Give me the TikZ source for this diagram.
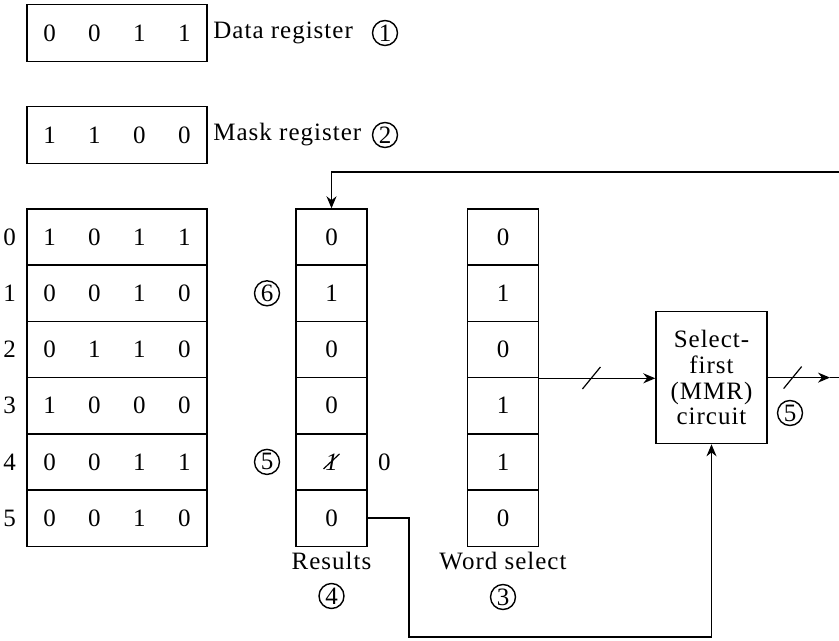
\documentclass[tikz,border=0pt]{standalone}
\usepackage{fontspec}
\setmainfont{Liberation Serif}[LetterSpace=4]
\usetikzlibrary{arrows.meta, positioning}

% four bits spread evenly over a register
\newcommand\bitrow[4]{\makebox[22.5pt]{#1}\makebox[22.5pt]{#2}\makebox[22.5pt]{#3}\makebox[22.5pt]{#4}}

\tikzset{
  font=\fontsize{12.5}{12.85}\selectfont,
  >={Stealth[length=6pt, width=5pt]},
  %
  reg/.style={draw, line width=0.7pt, minimum width=90pt, minimum height=28.5pt,
              inner sep=0pt},
  word/.style={reg, minimum height=28.1pt},
  cell/.style={draw, line width=0.7pt, minimum width=35.5pt, minimum height=28.1pt,
               inner sep=0pt},
  mmr/.style={draw, line width=0.7pt, minimum width=55.5pt, minimum height=66pt,
              align=center, inner sep=0pt},
  %
  num/.style={circle, draw, line width=0.7pt, inner sep=0pt, minimum size=12.5pt},
  lbl/.style={inner sep=1pt},
  %
  wire/.style={line width=0.7pt},
  flow/.style={wire, ->},
  slash/.style={line width=0.6pt},
}

\begin{document}
\begin{tikzpicture}[x=0.5pt, y=-0.5pt]

  \useasboundingbox (0,0) rectangle (839,641);

  % registers
  \node[reg] (data) at (117,33) {\bitrow{0}{0}{1}{1}};
  \node[lbl, anchor=west] (datalbl) at (211,33) {Data register};
  \node[num] (n1) at (385,33) {1};

  \node[reg] (mask) at (117,135) {\bitrow{1}{1}{0}{0}};
  \node[lbl, anchor=west] (masklbl) at (211,135) {Mask register};
  \node[num] (n2) at (385,135) {2};

  % memory words
  \node[word] (m0) at (117,237.1) {\bitrow{1}{0}{1}{1}};
  \node[word] (m1) at (117,293.3) {\bitrow{0}{0}{1}{0}};
  \node[word] (m2) at (117,349.5) {\bitrow{0}{1}{1}{0}};
  \node[word] (m3) at (117,405.7) {\bitrow{1}{0}{0}{0}};
  \node[word] (m4) at (117,461.9) {\bitrow{0}{0}{1}{1}};
  \node[word] (m5) at (117,518.1) {\bitrow{0}{0}{1}{0}};

  \node[lbl, left=4pt of m0] (a0) {0};
  \node[lbl, left=4pt of m1] (a1) {1};
  \node[lbl, left=4pt of m2] (a2) {2};
  \node[lbl, left=4pt of m3] (a3) {3};
  \node[lbl, left=4pt of m4] (a4) {4};
  \node[lbl, left=4pt of m5] (a5) {5};

  % results column
  \node[cell] (r0) at (331.5,237.1) {0};
  \node[cell] (r1) at (331.5,293.3) {1};
  \node[cell] (r2) at (331.5,349.5) {0};
  \node[cell] (r3) at (331.5,405.7) {0};
  \node[cell] (r4) at (331.5,461.9) {\itshape 1};
  \node[cell] (r5) at (331.5,518.1) {0};
  \draw[slash] ([shift={(-8,7)}]r4.center) -- ([shift={(8,-8)}]r4.center);

  \node[num] (n6) at (267,293.3) {6};
  \node[num] (n5a) at (267,461.9) {5};
  \node[lbl, right=4pt of r4] (r4new) {0};

  \node[lbl] (reslbl) at (331.5,561) {Results};
  \node[num] (n4) at (331.5,596) {4};

  % word select column
  \node[cell] (w0) at (503,237.1) {0};
  \node[cell] (w1) at (503,293.3) {1};
  \node[cell] (w2) at (503,349.5) {0};
  \node[cell] (w3) at (503,405.7) {1};
  \node[cell] (w4) at (503,461.9) {1};
  \node[cell] (w5) at (503,518.1) {0};

  \node[lbl] (wslbl) at (503,561) {Word select};
  \node[num] (n3) at (503,597) {3};

  % select-first circuit
  \node[mmr] (sel) at (711.5,377.6) {Select-\\first\\(MMR)\\circuit};
  \node[num] (n5b) at (790,413) {5};

  % connections
  \coordinate (fbin) at (839,172);
  \draw[flow] (fbin) -| (r0.north);

  \draw[flow] (w2.south east) -- (w2.south east -| sel.west);
  \path (w2.south east) -- (sel.west) coordinate[pos=0.45] (bus1);
  \draw[slash] ([shift={(-9,11)}]bus1) -- ([shift={(9,-11)}]bus1);

  \coordinate (outtip) at (830,377.6);
  \coordinate (outend) at (839,377.6);
  \draw[flow] (sel.east) -- (outtip);
  \draw[wire] (outtip) -- (outend);
  \path (sel.east) -- (outtip) coordinate[pos=0.4] (bus2);
  \draw[slash] ([shift={(-9,11)}]bus2) -- ([shift={(9,-11)}]bus2);

  \coordinate (lowturn) at (409,637);
  \draw[flow] (r5.east) -| (lowturn) -| (sel.south);

\end{tikzpicture}
\end{document}
